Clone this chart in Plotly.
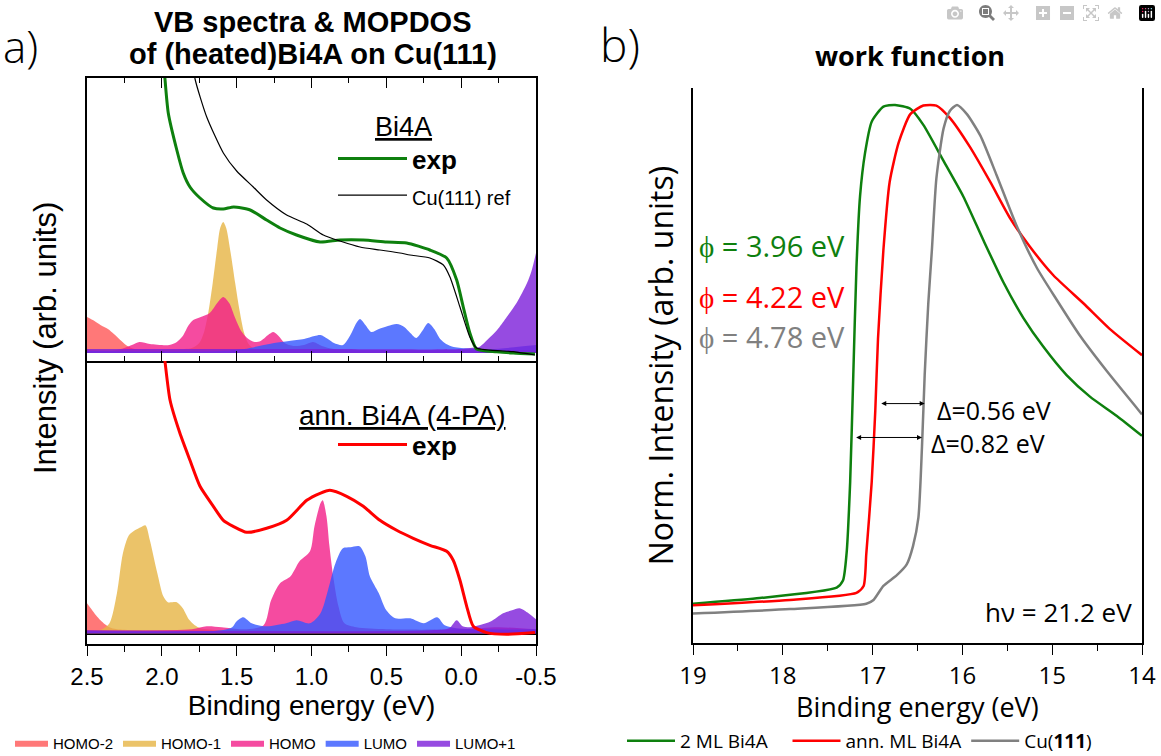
import plotly.graph_objects as go

W, H = 1161, 756

# ---------------- panel a: VB spectra (arb. units) ----------------
bi4a_exp_E = [2.00, 1.979, 1.957, 1.90, 1.857, 1.812, 1.745, 1.656, 1.589, 1.52, 1.41, 1.30, 1.21,
              1.10, 0.943, 0.81, 0.654, 0.498, 0.364, 0.209, 0.097, 0.03, -0.014, -0.058, -0.103,
              -0.237, -0.348, -0.493]
bi4a_exp_I = [320, 274, 240, 203, 180, 166, 155, 145, 144, 146, 143, 133, 125,
              118, 111, 113, 113, 111, 110, 103, 95, 73, 46, 20, 4,
              1.3, 0, -1]

cu_ref_E = [1.80, 1.778, 1.70, 1.589, 1.50, 1.389, 1.30, 1.166, 1.032, 0.921, 0.81, 0.676, 0.543,
            0.409, 0.342, 0.209, 0.119, 0.075, 0.008, -0.058, -0.103, -0.348, -0.493]
cu_ref_I = [300, 274, 236, 200, 182, 166, 153, 138, 129, 118, 112, 106, 103,
            100, 98, 95, 88, 76, 46, 16, 5, 1.3, -2]

ann_exp_E = [2.00, 1.979, 1.945, 1.879, 1.812, 1.745, 1.656, 1.589, 1.523, 1.433, 1.30, 1.166, 1.032,
             0.943, 0.877, 0.765, 0.654, 0.543, 0.431, 0.32, 0.209, 0.097, 0.053, 0.008, -0.037,
             -0.081, -0.17, -0.304, -0.493]
ann_exp_I = [300, 272, 233, 200, 173, 147, 127, 113, 107, 101, 105, 113, 133,
             140, 143, 137, 127, 113, 103, 95, 88, 82, 73, 53, 27,
             7, 0.7, -1, 0.7]

# MOPDOS, Bi4A (top)
t_homo2_E = [2.50, 2.45, 2.41, 2.36, 2.32, 2.27, 2.23, 2.18, 2.05, 1.80, 1.40, 1.00, 0.50, 0.00, -0.50]
t_homo2_I = [36, 32, 28, 24, 19, 12, 7, 4, 3, 3, 3, 2, 2, 2, 2]
t_homo1_E = [2.50, 2.00, 1.85, 1.80, 1.75, 1.72, 1.69, 1.66, 1.63, 1.61, 1.59, 1.57, 1.54, 1.51, 1.48,
             1.45, 1.42, 1.38, 1.20, 0.80, 0.00, -0.50]
t_homo1_I = [2, 3, 4, 5, 10, 20, 40, 70, 105, 125, 131, 125, 100, 70, 42, 20, 9, 4, 3, 2, 2, 2]
t_homo_E = [2.50, 2.30, 2.20, 2.15, 2.08, 1.95, 1.90, 1.86, 1.82, 1.79, 1.74, 1.68, 1.63, 1.59, 1.55,
            1.51, 1.47, 1.43, 1.38, 1.34, 1.29, 1.255, 1.22, 1.18, 1.12, 1.05, 0.99, 0.93, 0.85, 0.50,
            0.00, -0.50]
t_homo_I = [3, 3, 8, 11, 9, 8, 11, 17, 28, 33, 36, 40, 50, 56, 50,
            35, 22, 15, 11, 12, 18, 21, 17, 10, 7, 8, 11, 7, 4, 3,
            3, 3]
t_lumo_E = [2.50, 1.60, 1.45, 1.35, 1.25, 1.15, 1.05, 0.98, 0.94, 0.89, 0.85, 0.79, 0.74, 0.70, 0.676,
            0.64, 0.60, 0.55, 0.49, 0.43, 0.38, 0.34, 0.30, 0.26, 0.22, 0.18, 0.14, 0.10, 0.05, 0.00,
            -0.20, -0.50]
t_lumo_I = [2, 2, 4, 7, 10, 12, 14, 17, 18, 14, 10, 8, 18, 30, 34,
            28, 21, 24, 27, 29, 26, 20, 15, 22, 30, 24, 14, 9, 6, 5,
            4, 8]
t_lumo1_E = [2.50, 1.00, 0.00, -0.06, -0.12, -0.18, -0.24, -0.30, -0.37, -0.44, -0.47, -0.50]
t_lumo1_I = [4, 4, 4, 5, 6, 14, 23, 35, 50, 70, 82, 100]

# MOPDOS, annealed Bi4A (bottom)
b_homo2_E = [2.50, 2.47, 2.44, 2.41, 2.38, 2.35, 2.30, 2.00, 1.50, 1.00, 0.50, 0.00, -0.50]
b_homo2_I = [30, 24, 18, 13, 9, 6, 4, 3, 3, 2, 2, 2, 2]
b_homo1_E = [2.50, 2.40, 2.35, 2.30, 2.26, 2.22, 2.18, 2.14, 2.11, 2.08, 2.03, 1.99, 1.96, 1.93, 1.90,
             1.86, 1.82, 1.78, 1.74, 1.60, 1.00, 0.00, -0.50]
b_homo1_I = [2, 4, 10, 40, 80, 98, 103, 106, 108, 93, 60, 37, 31, 31, 31,
             25, 14, 8, 5, 3, 2, 2, 2]
b_homo_E = [2.50, 1.80, 1.70, 1.60, 1.45, 1.32, 1.27, 1.21, 1.14, 1.08, 1.01, 0.98, 0.94, 0.925, 0.90,
            0.88, 0.855, 0.82, 0.78, 0.70, 0.50, 0.00, -0.25, -0.50]
b_homo_I = [3, 4, 7, 6, 4, 8, 33, 50, 57, 72, 82, 107, 130, 133, 117,
            87, 57, 27, 10, 6, 4, 4, 6, 4]
b_lumo_E = [2.50, 1.60, 1.53, 1.50, 1.456, 1.40, 1.30, 1.17, 1.10, 1.01, 0.94, 0.89, 0.84, 0.79, 0.74,
            0.68, 0.64, 0.61, 0.55, 0.50, 0.44, 0.34, 0.25, 0.16, 0.11, 0.03, -0.20, -0.50]
b_lumo_I = [2, 3, 6, 12, 16, 10, 7, 10, 13, 10, 20, 43, 70, 85, 86,
            87, 77, 57, 40, 23, 15, 15, 10, 16, 8, 5, 4, 4]
b_lumo1_E = [2.50, 0.20, 0.08, 0.03, -0.01, -0.06, -0.12, -0.20, -0.28, -0.34, -0.39, -0.45, -0.50]
b_lumo1_I = [3, 3, 5, 13, 7, 6, 8, 12, 20, 23, 25, 20, 14]

mo_names = ["HOMO-2", "HOMO-1", "HOMO", "LUMO", "LUMO+1"]
mo_colors = ["rgba(255,86,86,0.8)", "rgba(230,180,68,0.8)", "rgba(243,30,136,0.8)",
             "rgba(51,86,255,0.8)", "rgba(124,30,217,0.8)"]
top_mo = [(t_homo2_E, t_homo2_I), (t_homo1_E, t_homo1_I), (t_homo_E, t_homo_I),
          (t_lumo_E, t_lumo_I), (t_lumo1_E, t_lumo1_I)]
bot_mo = [(b_homo2_E, b_homo2_I), (b_homo1_E, b_homo1_I), (b_homo_E, b_homo_I),
          (b_lumo_E, b_lumo_I), (b_lumo1_E, b_lumo1_I)]

a_ticks = [2.5, 2.0, 1.5, 1.0, 0.5, 0.0, -0.5]
a_ticktext = ["2.5", "2.0", "1.5", "1.0", "0.5", "0.0", "-0.5"]

# ---------------- panel b: work function (normalized) ----------------
ml_E = [19.0, 18.29, 17.40, 17.33, 17.29, 17.25, 17.215, 17.18, 17.14, 17.085, 17.01, 16.88, 16.75,
        16.58, 16.435, 16.21, 15.99, 15.77, 15.545, 15.32, 15.10, 14.84, 14.58, 14.28, 14.0]
ml_I = [0.073, 0.083, 0.103, 0.116, 0.166, 0.299, 0.498, 0.697, 0.830, 0.910, 0.969, 0.997, 1.0,
        0.993, 0.963, 0.896, 0.830, 0.750, 0.671, 0.604, 0.551, 0.498, 0.458, 0.422, 0.385]
ann_E = [19.0, 17.92, 17.18, 17.10, 17.07, 17.01, 16.97, 16.94, 16.88, 16.81, 16.71, 16.58, 16.435,
         16.29, 16.14, 15.92, 15.69, 15.47, 15.25, 14.99, 14.65, 14.36, 14.0]
ann_I = [0.070, 0.080, 0.093, 0.106, 0.166, 0.299, 0.432, 0.565, 0.730, 0.857, 0.930, 0.983, 0.999,
         0.999, 0.976, 0.923, 0.857, 0.790, 0.737, 0.684, 0.631, 0.584, 0.535]
cu_E = [19.0, 17.92, 17.07, 16.99, 16.88, 16.73, 16.62, 16.55, 16.49, 16.45, 16.42, 16.38, 16.34,
        16.29, 16.21, 16.14, 16.06, 15.95, 15.80, 15.62, 15.40, 15.17, 14.95, 14.69, 14.39, 14.0]
cu_I = [0.055, 0.063, 0.073, 0.080, 0.106, 0.126, 0.146, 0.180, 0.233, 0.365, 0.498, 0.631, 0.730,
        0.863, 0.956, 0.989, 1.0, 0.983, 0.943, 0.870, 0.777, 0.697, 0.638, 0.571, 0.505, 0.425]
b_ticks = [19, 18, 17, 16, 15, 14]
phi_labels = ["\u03d5 = 3.96 eV", "\u03d5 = 4.22 eV", "\u03d5 = 4.78 eV"]
delta1 = [16.92, 16.42, 0.445]   # x_start, x_end, y
delta2 = [17.20, 16.45, 0.382]

GREEN = "#0E800E"
RED = "#FF0000"
GRAY = "#808080"
ARIAL = "Liberation Sans"
SEGOE = "Open Sans"
NB = "\u00a0\u00a0\u00a0"


def px(x):
    return x / W


def py(y):
    return 1 - y / H


fig = go.Figure()

for (E, I), name, col in zip(top_mo, mo_names, mo_colors):
    fig.add_trace(go.Scatter(x=E, y=I, mode="lines", line=dict(width=0, shape="spline", smoothing=0.8, color=col),
                             fill="tozeroy", fillcolor=col, name=name, legend="legend3",
                             xaxis="x", yaxis="y", hoverinfo="skip"))
for (E, I), name, col in zip(bot_mo, mo_names, mo_colors):
    fig.add_trace(go.Scatter(x=E, y=I, mode="lines", line=dict(width=0, shape="spline", smoothing=0.8, color=col),
                             fill="tozeroy", fillcolor=col, name=name, showlegend=False,
                             xaxis="x2", yaxis="y2", hoverinfo="skip"))

fig.add_trace(go.Scatter(x=bi4a_exp_E, y=bi4a_exp_I, mode="lines", name="<b>exp</b>",
                         line=dict(color=GREEN, width=3, shape="spline", smoothing=0.6),
                         xaxis="x", yaxis="y", legend="legend"))
fig.add_trace(go.Scatter(x=cu_ref_E, y=cu_ref_I, mode="lines",
                         name="<span style='font-size:20px'>Cu(111) ref</span>",
                         line=dict(color="black", width=1.2, shape="spline", smoothing=0.6),
                         xaxis="x", yaxis="y", legend="legend"))
fig.add_trace(go.Scatter(x=ann_exp_E, y=ann_exp_I, mode="lines", name="<b>exp</b>",
                         line=dict(color=RED, width=3, shape="spline", smoothing=0.6),
                         xaxis="x2", yaxis="y2", legend="legend2"))

fig.add_trace(go.Scatter(x=ml_E, y=ml_I, mode="lines", name="2 ML Bi4A" + NB,
                         line=dict(color=GREEN, width=2.5, shape="spline", smoothing=0.6),
                         xaxis="x3", yaxis="y3", legend="legend4"))
fig.add_trace(go.Scatter(x=ann_E, y=ann_I, mode="lines", name="ann. ML Bi4A",
                         line=dict(color=RED, width=2.5, shape="spline", smoothing=0.6),
                         xaxis="x3", yaxis="y3", legend="legend4"))
fig.add_trace(go.Scatter(x=cu_E, y=cu_I, mode="lines", name="Cu(<b>111</b>)",
                         line=dict(color=GRAY, width=2.5, shape="spline", smoothing=0.6),
                         xaxis="x3", yaxis="y3", legend="legend4"))

XA = [px(87), px(536)]
YT = [py(361), py(78)]
YB = [py(644), py(361)]
XB = [px(693), px(1142)]
YR = [py(643), py(88)]

common = dict(showgrid=False, zeroline=False, showline=True, linecolor="black", linewidth=1.5,
              tickcolor="black", tickwidth=1.3, automargin=False)

fig.update_layout(
    width=W, height=H, margin=dict(l=0, r=0, t=0, b=0, autoexpand=False), autosize=False,
    paper_bgcolor="white", plot_bgcolor="white",
    font=dict(family=ARIAL, color="black"),
    xaxis=dict(domain=XA, anchor="y", range=[2.5, -0.5], mirror="ticks", ticks="inside", ticklen=10,
               tickvals=a_ticks, showticklabels=False,
               minor=dict(ticks="inside", ticklen=5, dtick=0.25, tick0=0, tickcolor="black", showgrid=False),
               **common),
    yaxis=dict(domain=YT, anchor="x", range=[-8, 275], mirror=True, ticks="", showticklabels=False, **common),
    xaxis2=dict(domain=XA, anchor="y2", range=[2.5, -0.5], ticks="outside", ticklen=10,
                tickvals=a_ticks, ticktext=a_ticktext, tickfont=dict(size=24, family=ARIAL),
                minor=dict(ticks="outside", ticklen=6, dtick=0.25, tick0=0, tickcolor="black", showgrid=False),
                title=dict(text="Binding energy (eV)", font=dict(size=28, family=ARIAL), standoff=0),
                **common),
    xaxis5=dict(overlaying="x2", anchor="y2", side="top", range=[2.5, -0.5], ticks="inside", ticklen=10,
                tickvals=a_ticks, showticklabels=False,
                minor=dict(ticks="inside", ticklen=5, dtick=0.25, tick0=0, tickcolor="black", showgrid=False),
                **common),
    yaxis2=dict(domain=YB, anchor="x2", range=[-10.7, 272.3], mirror=True, ticks="", showticklabels=False,
                showgrid=False, zeroline=True, zerolinecolor="black", zerolinewidth=2.5,
                showline=True, linecolor="black", linewidth=1.5, automargin=False),
    xaxis3=dict(domain=XB, anchor="y3", range=[19, 14], ticks="outside", ticklen=10,
                tickvals=b_ticks, tickfont=dict(size=24, family=SEGOE),
                minor=dict(ticks="outside", ticklen=6, dtick=0.5, tick0=0, tickcolor="black", showgrid=False),
                **common),
    xaxis6=dict(overlaying="x3", anchor="y3", side="top", range=[19, 14], ticks="inside", ticklen=10,
                tickvals=b_ticks, showticklabels=False,
                minor=dict(ticks="inside", ticklen=5, dtick=0.5, tick0=0, tickcolor="black", showgrid=False),
                **common),
    yaxis3=dict(domain=YR, anchor="x3", range=[0, 1.0316], mirror=True, ticks="", showticklabels=False,
                title=dict(text="Norm. Intensity (arb. units)", font=dict(size=32, family=SEGOE), standoff=8),
                **common),
    legend=dict(x=px(333), y=py(135), xanchor="left", yanchor="top", bgcolor="rgba(0,0,0,0)",
                font=dict(size=26, family=ARIAL), itemwidth=69, tracegroupgap=0),
    legend2=dict(x=px(333), y=py(421), xanchor="left", yanchor="top", bgcolor="rgba(0,0,0,0)",
                 font=dict(size=26, family=ARIAL), itemwidth=69),
    legend3=dict(orientation="h", x=px(10), y=py(743), xanchor="left", yanchor="middle",
                 bgcolor="rgba(0,0,0,0)", font=dict(size=15, family=ARIAL), itemwidth=33),
    legend4=dict(orientation="h", x=px(622), y=py(741), xanchor="left", yanchor="middle",
                 bgcolor="rgba(0,0,0,0)", font=dict(size=19, family=SEGOE), itemwidth=48),
    showlegend=True,
)

ann = []
ann.append(dict(text="<b>VB spectra & MOPDOS</b>", x=px(312), y=py(22), font=dict(size=29, family=ARIAL)))
ann.append(dict(text="<b>of (heated)Bi4A on Cu(111)</b>", x=px(313), y=py(54), font=dict(size=29, family=ARIAL)))
ann.append(dict(text="a)", x=px(1), y=py(46), xanchor="left", font=dict(size=44, family=SEGOE, weight=300)))
ann.append(dict(text="b)", x=px(620), y=py(44), font=dict(size=46, family=SEGOE, weight=300)))
ann.append(dict(text="<b>work function</b>", x=px(910), y=py(55), font=dict(size=27, family=SEGOE)))
ann.append(dict(text="Intensity (arb. units)", x=px(45), y=py(338), textangle=-90,
                font=dict(size=31, family=ARIAL)))
ann.append(dict(text="Binding energy (eV)", x=px(917.5), y=py(706), font=dict(size=27, family=SEGOE)))
ann.append(dict(text="<u>Bi4A</u>", x=px(403), y=py(127), font=dict(size=27, family=ARIAL)))
ann.append(dict(text="<u>ann. Bi4A (4-PA)</u>", x=px(402), y=py(415), font=dict(size=28, family=ARIAL)))
for lbl, col, yy in zip(phi_labels, [GREEN, RED, GRAY], [245, 297, 336]):
    ann.append(dict(text=lbl, x=px(697), y=py(yy), xanchor="left", font=dict(size=29, family=SEGOE, color=col)))
ann.append(dict(text="\u0394=0.56 eV", x=px(935), y=py(410), xanchor="left", font=dict(size=25, family=SEGOE)))
ann.append(dict(text="\u0394=0.82 eV", x=px(929), y=py(443), xanchor="left", font=dict(size=25, family=SEGOE)))
ann.append(dict(text="h\u03bd = 21.2 eV", x=px(1134), y=py(612), xanchor="right", font=dict(size=26, family=SEGOE)))
for a in ann:
    a.setdefault("xref", "paper")
    a.setdefault("yref", "paper")
    a.setdefault("showarrow", False)
    a.setdefault("xanchor", "center")
    a.setdefault("yanchor", "middle")

for d in (delta1, delta2):
    ann.append(dict(text="", x=d[1], y=d[2], ax=d[0], ay=d[2], xref="x3", yref="y3", axref="x3", ayref="y3",
                    showarrow=True, arrowhead=2, startarrowhead=2, arrowside="end+start",
                    arrowsize=1, arrowwidth=1, arrowcolor="black", standoff=0, startstandoff=0))

fig.update_layout(annotations=ann)

fig.write_html("out.html", post_script="document.body.style.margin='0px';")
